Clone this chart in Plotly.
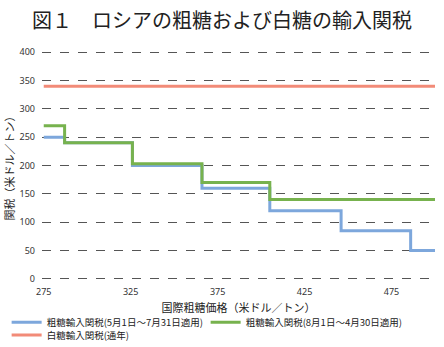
import plotly.graph_objects as go

# Data
blue_x = [275, 287, 326, 366, 405, 446, 486, 500]
blue_y = [250, 240, 200, 160, 120, 85, 50, 50]
green_x = [275, 287, 326, 366, 405, 500]
green_y = [270, 240, 203, 170, 140, 140]
red_x = [275, 500]
red_y = [340, 340]
names = ["粗糖輸入関税(5月1日～7月31日適用)", "粗糖輸入関税(8月1日～4月30日適用)", "白糖輸入関税(通年)"]
x_ticks = [275, 325, 375, 425, 475]
y_ticks = [0, 50, 100, 150, 200, 250, 300, 350, 400]

jp = "Noto Sans CJK JP"
fig = go.Figure()
fig.add_trace(go.Scatter(x=blue_x, y=blue_y, mode="lines", line=dict(shape="hv", color="#7DA7DC", width=3),
                         name=names[0], legend="legend"))
fig.add_trace(go.Scatter(x=green_x, y=green_y, mode="lines", line=dict(shape="hv", color="#77B24E", width=3),
                         name=names[1], legend="legend"))
fig.add_trace(go.Scatter(x=red_x, y=red_y, mode="lines", line=dict(color="#F28B78", width=3),
                         name=names[2], legend="legend2"))

leg_common = dict(orientation="h", xanchor="left", yanchor="middle", bgcolor="rgba(0,0,0,0)",
                  font=dict(family=jp, size=9.5, color="#222"), tracegroupgap=0,
                  itemwidth=30, traceorder="normal")
fig.update_layout(
    width=444, height=347,
    margin=dict(l=42, r=9, t=51, b=67, autoexpand=False),
    paper_bgcolor="white", plot_bgcolor="white",
    title=dict(text="図１　ロシアの粗糖および白糖の輸入関税", x=0.5, xanchor="center", y=0.94, yanchor="middle",
               font=dict(family=jp, size=20, color="#222")),
    showlegend=True,
    legend=dict(x=-0.09, y=-0.185, entrywidth=154, **leg_common),
    legend2=dict(x=-0.09, y=-0.24, **leg_common),
    font=dict(family=jp, color="#333"),
)
fig.update_xaxes(range=[274, 500], tickvals=x_ticks, showgrid=False, zeroline=False, showline=False,
                 ticklabelstandoff=5, automargin=False,
                 tickfont=dict(size=9, family="Noto Sans", color="#333"),
                 title=dict(text="国際粗糖価格（米ドル／トン）", font=dict(family=jp, size=11, color="#222"), standoff=7))
fig.update_yaxes(range=[-2, 402], tickvals=y_ticks, showgrid=True, gridcolor="#555", griddash="dash", gridwidth=1,
                 zeroline=False, showline=False, ticks="", ticklabelstandoff=6, automargin=False,
                 tickfont=dict(size=9, family="Noto Sans", color="#333"),
                 title=dict(text="関税（米ドル／トン）", font=dict(family=jp, size=11, color="#222"), standoff=2))
fig.write_html("out.html")
